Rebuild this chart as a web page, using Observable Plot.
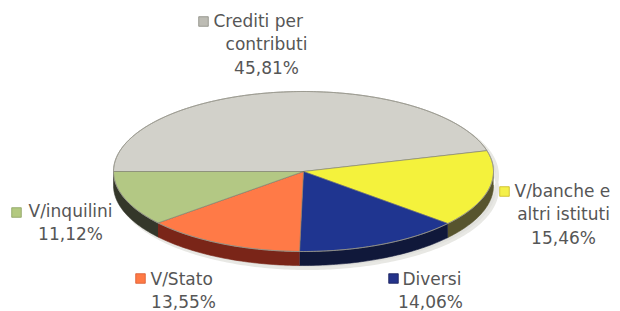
<!DOCTYPE html>
<html><head><meta charset="utf-8">
<script src="https://cdn.jsdelivr.net/npm/d3@7"></script>
<script src="https://cdn.jsdelivr.net/npm/@observablehq/plot@0.6"></script>
<style>body{margin:0;background:#fff;}</style>
</head><body><div id="chart"></div>
<script>
// ---- data ----
const categories = ["Crediti per contributi", "V/banche e altri istituti", "Diversi", "V/Stato", "V/inquilini"];
const values = [45.81, 15.46, 14.06, 13.55, 11.12];
const valueLabels = ["45,81%", "15,46%", "14,06%", "13,55%", "11,12%"];
const labelLines = [["Crediti per", "contributi"], ["V/banche e", "altri istituti"], ["Diversi"], ["V/Stato"], ["V/inquilini"]];

// ---- styles / layout ----
const topColors = ["#d2d1ca", "#f4f23c", "#1f3590", "#ff7a47", "#b3c884"];
const sideColors = ["#8f8e86", "#57542e", "#10183a", "#7a2518", "#34372a"];
const squareColors = ["#bdbcb4", "#f4f04a", "#25338a", "#ff7a45", "#b3c980"];
const squareStroke = ["#8a8a80", "#c9b820", "#18205a", "#d85a30", "#8aa060"];
const W = 620, H = 311;
const cx = 303, cy = 171, rx = 190, ry = 80, depth = 14;
const startDeg = 270; // clockwise from top
const labelLayout = [
  {sq: [203, 21], first: [213, 21], center: 266},
  {sq: [504, 191], first: [514, 191], center: 563},
  {sq: [393, 278], first: [402, 279], center: 430},
  {sq: [140, 278], first: [150, 279], center: 183},
  {sq: [16, 212], first: [28, 211], center: 70}
];
const lineGap = 23.5;

const rad = d => d * Math.PI / 180;
const P = (deg, off = 0, dx = 0) => ({x: cx + dx + rx * Math.sin(rad(deg)), y: cy - ry * Math.cos(rad(deg)) + off});

const total = d3.sum(values);
let cum = 0;
const slices = values.map((v, i) => {
  const a0 = startDeg + cum / total * 360;
  cum += v;
  const a1 = startDeg + cum / total * 360;
  return {i, a0, a1};
});

function arcPts(a0, a1, off = 0, dx = 0) {
  const n = Math.max(2, Math.ceil(Math.abs(a1 - a0)));
  return d3.range(n + 1).map(k => P(a0 + (a1 - a0) * k / n, off, dx));
}

const marks = [];
// soft shadow under the disc
marks.push(Plot.line([...arcPts(60, 300, 4, 4), ...arcPts(300, 60, depth + 3, 4)],
  {x: "x", y: "y", fill: "#d9d9d4", stroke: "#e8e8e4", strokeWidth: 3, fillOpacity: 0.8}));

// sides
slices.forEach(s => {
  [[90, 270], [450, 630]].forEach(([lo, hi]) => {
    const s0 = Math.max(s.a0, lo), s1 = Math.min(s.a1, hi);
    if (s1 > s0) {
      const pts = [...arcPts(s0, s1, 0), ...arcPts(s1, s0, depth)];
      marks.push(Plot.line(pts, {x: "x", y: "y", fill: sideColors[s.i], stroke: sideColors[s.i], strokeWidth: 0.6}));
    }
  });
});

// top faces
slices.forEach(s => {
  const pts = [{x: cx, y: cy}, ...arcPts(s.a0, s.a1, 0), {x: cx, y: cy}];
  marks.push(Plot.line(pts, {x: "x", y: "y", fill: topColors[s.i], stroke: "#77776a", strokeWidth: 0.7, strokeOpacity: 0.8}));
});
// outline of top
marks.push(Plot.line(arcPts(0, 360, 0), {x: "x", y: "y", stroke: "#9a998f", strokeWidth: 0.8}));

// labels
const textRows = [];
const sqRows = [];
labelLayout.forEach((L, i) => {
  sqRows.push({x: L.sq[0], y: L.sq[1], i});
  const lines = [...labelLines[i], valueLabels[i]];
  lines.forEach((t, k) => {
    if (k === 0) textRows.push({x: L.first[0], y: L.first[1], t, anchor: "start"});
    else textRows.push({x: L.center, y: L.first[1] + k * lineGap, t, anchor: "middle"});
  });
});
marks.push(Plot.dot(sqRows, {x: "x", y: "y", symbol: "square", r: 5.4,
  fill: d => squareColors[d.i], stroke: d => squareStroke[d.i], strokeWidth: 0.8}));
marks.push(Plot.text(textRows.filter(d => d.anchor === "start"), {x: "x", y: "y", text: "t", textAnchor: "start", fontSize: 17, fill: "#565656", fontFamily: "DejaVu Sans"}));
marks.push(Plot.text(textRows.filter(d => d.anchor === "middle"), {x: "x", y: "y", text: "t", textAnchor: "middle", fontSize: 17, fill: "#565656", fontFamily: "DejaVu Sans"}));

const chart = Plot.plot({
  width: W, height: H, margin: 0,
  x: {domain: [0, W], range: [0, W], axis: null},
  y: {domain: [0, H], range: [0, H], axis: null},
  color: {type: "identity"},
  style: {background: "#fff", overflow: "visible"},
  marks
});
document.getElementById("chart").appendChild(chart);
</script>
</body></html>
